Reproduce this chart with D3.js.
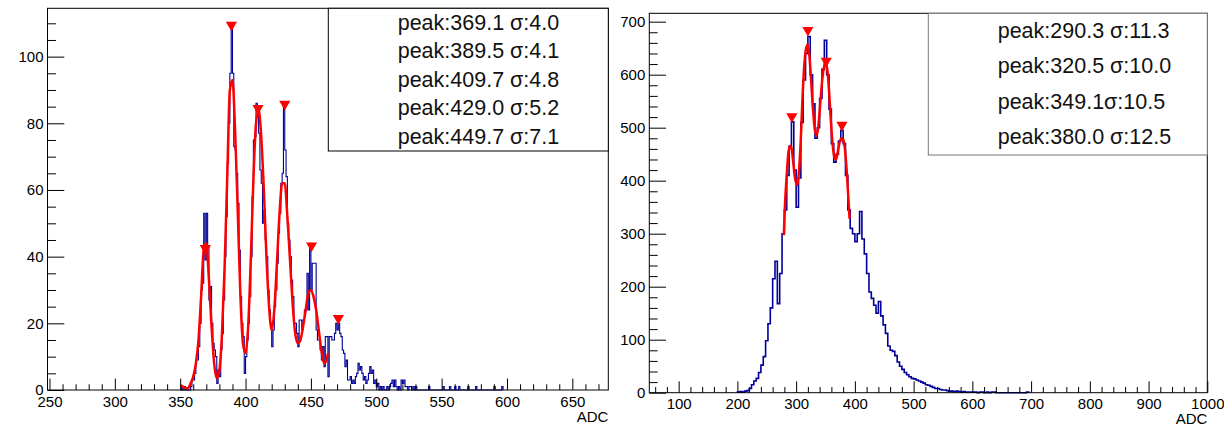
<!DOCTYPE html>
<html>
<head>
<meta charset="utf-8">
<script src="https://cdn.jsdelivr.net/npm/d3@7"></script>
<style>
	body { margin: 0; background: #fff; }
	svg { display: block; }
</style>
</head>
<body>
<div id="app"></div>
<script>
// left pad: 1 ADC bins starting at 350
const leftBinStart = 350;
const leftBinWidth = 1;
const leftCounts = [
	0, 1, 0, 1, 0, 0, 0, 0, 1, 3,
	3, 5, 9, 9, 13, 20, 30, 32, 53, 39,
	53, 43, 27, 31, 20, 14, 12, 10, 2, 6,
	4, 12, 17, 27, 40, 52, 68, 80, 95, 109,
	95, 73, 72, 65, 56, 42, 28, 20, 16, 5,
	10, 15, 20, 28, 40, 58, 75, 76, 86, 85,
	77, 66, 62, 50, 54, 45, 40, 30, 24, 20,
	13, 18, 25, 30, 38, 47, 53, 62, 65, 86,
	72, 64, 50, 45, 40, 33, 28, 20, 20, 17,
	13, 21, 21, 18, 21, 24, 24, 35, 24, 44,
	30, 38, 38, 38, 18, 15, 15, 12, 9, 13,
	7, 16, 16, 4, 16, 16, 15, 15, 17, 20,
	18, 20, 17, 16, 12, 11, 7, 9, 3, 3,
	4, 2, 3, 2, 4, 5, 8, 6, 7, 5,
	3, 4, 2, 3, 5, 7, 5, 6, 2, 3,
	1, 2, 0, 1, 0, 1, 0, 0, 1, 0,
	1, 2, 3, 1, 3, 1, 0, 1, 0, 3,
	2, 3, 1, 1, 0, 1, 1, 0, 1, 0,
	1
];
// lonely single counts out in the tail
const leftSingles = [540, 551, 556, 560, 563, 570, 576, 590, 596];

const leftFitX = [350, 352, 354, 356, 358, 360, 362, 364, 366, 368, 370, 372, 374, 376, 378, 380,
	382, 384, 386, 388, 390, 392, 394, 396, 398, 400, 402, 404, 406, 408, 410, 412, 414, 416, 418,
	420, 422, 424, 426, 428, 430, 432, 434, 436, 438, 440, 442, 444, 446, 448, 450, 452, 454, 456,
	458, 460, 462, 463];
const leftFitY = [1.5, 1, 0.5, 0.5, 2, 4, 8, 15, 28, 42, 44, 33, 19, 8, 3.5, 6,
	17, 37, 64, 90, 93, 78, 54, 29, 14, 11, 19, 39, 63, 80, 84, 76, 60, 40, 25,
	18, 24, 38, 53, 62, 62, 52, 39, 26, 17, 14, 15, 19, 24, 29, 30, 28, 24, 18,
	12, 8, 9, 11];

const leftPeakX = [369.2, 389.2, 409.5, 430, 450.5, 471];
const leftPeakY = [42.5, 109.5, 84.5, 85.8, 43.3, 21.5];
const leftLabels = ['peak:369.1 σ:4.0', 'peak:389.5 σ:4.1', 'peak:409.7 σ:4.8', 'peak:429.0 σ:5.2', 'peak:449.7 σ:7.1'];

const leftXTicks = [250, 300, 350, 400, 450, 500, 550, 600, 650];
const leftYTicks = [0, 20, 40, 60, 80, 100];

// right pad: 4 ADC bins starting at 200
const rightBinStart = 200;
const rightBinWidth = 4;
const rightCounts = [
	1, 2, 1, 3, 4, 8, 15, 22, 27, 38,
	52, 68, 98, 130, 160, 215, 248, 168, 225, 300,
	345, 410, 465, 511, 420, 350, 405, 510, 590, 640,
	672, 600, 545, 480, 500, 555, 610, 665, 600, 535,
	470, 435, 450, 475, 495, 470, 410, 345, 310, 300,
	285, 300, 342, 290, 262, 225, 190, 178, 165, 150,
	172, 145, 128, 112, 88, 80, 78, 70, 58, 50,
	44, 38, 34, 30, 27, 26, 24, 22, 20, 18,
	15, 14, 12, 10, 8, 8, 6, 5, 5, 4,
	3, 3, 2, 3, 2, 1, 2, 1, 1, 1,
	1, 1, 0, 1, 1, 0, 1, 0, 1, 1,
	0
];
const rightSingles = [692];

const rightFitX = [279, 281, 284, 287, 290, 292, 295, 298, 302, 305, 308, 311, 314, 317, 320, 323,
	326, 329, 332, 335, 338, 341, 344, 347, 350, 353, 356, 359, 362, 365, 368, 371, 374, 377, 380,
	383, 386, 389, 391];
const rightFitY = [297, 354, 411, 455, 466, 462, 435, 405, 392, 420, 480, 560, 620, 650, 657, 630,
	580, 530, 495, 485, 505, 545, 585, 612, 620, 610, 570, 515, 470, 445, 440, 455, 472, 480, 478,
	460, 420, 365, 328];

const rightPeakX = [292.7, 320, 351.2, 378];
const rightPeakY = [521, 684, 626, 505];
const rightLabels = ['peak:290.3 σ:11.3', 'peak:320.5 σ:10.0', 'peak:349.1σ:10.5', 'peak:380.0 σ:12.5'];

const rightXTicks = [100, 200, 300, 400, 500, 600, 700, 800, 900, 1000];
const rightYTicks = [0, 100, 200, 300, 400, 500, 600, 700];

const axisTitle = 'ADC';


// STYLE + LAYOUT
const width = 1224;
const height = 426;
const font = "'Liberation Sans', Arial, Helvetica, sans-serif";
const histColour = '#000099';
const fitColour = '#ff0000';
const tickFont = 15;
const legendFont = 21.5;

const panels = [
	{
		counts: leftCounts, binStart: leftBinStart, binWidth: leftBinWidth, singles: leftSingles, binEnd: 600,
		fitX: leftFitX, fitY: leftFitY, peakX: leftPeakX, peakY: leftPeakY, labels: leftLabels,
		xTicks: leftXTicks, yTicks: leftYTicks, xMinor: 10, yMinor: 5,
		xDomain: [248.5, 677.5], yDomain: [0, 114.5],
		frame: { x0: 47.5, x1: 608.3, y0: 8.3, y1: 390 },
		legend: { x0: 328.3, y1: 151, stroke: '#000' },
		histWidth: 1.1
	},
	{
		counts: rightCounts, binStart: rightBinStart, binWidth: rightBinWidth, singles: rightSingles, binEnd: 700,
		fitX: rightFitX, fitY: rightFitY, peakX: rightPeakX, peakY: rightPeakY, labels: rightLabels,
		xTicks: rightXTicks, yTicks: rightYTicks, xMinor: 20, yMinor: 20,
		xDomain: [50, 1000], yDomain: [0, 715.8],
		frame: { x0: 649.3, x1: 1207.3, y0: 13.3, y1: 392.7 },
		legend: { x0: 928.3, y1: 155, stroke: '#777' },
		// the real thing has 1 ADC bins, so it reads heavier
		histWidth: 1.6
	}
];

const svg = d3.select('#app')
	.append('svg')
	.attr('width', width)
	.attr('height', height)
	.attr('viewBox', [0, 0, width, height])
	.style('font-family', font);

const buildBins = p => {
	const bins = [];
	for (let i = 0, lo = p.binStart; lo < p.binEnd; i++, lo += p.binWidth) {
		let v = i < p.counts.length ? p.counts[i] : 0;
		if (p.singles.includes(lo)) v = 1;
		bins.push({ lo, hi: lo + p.binWidth, v });
	}
	// stop the outline at the last filled bin
	while (bins.length && bins[bins.length - 1].v === 0) bins.pop();
	return bins;
};

const drawHistogram = (g, p, x, y) => {
	const bins = buildBins(p);
	const last = bins[bins.length - 1];
	const pts = [[bins[0].lo, 0], ...bins.map(b => [b.lo, b.v]), [last.hi, last.v], [last.hi, 0]];

	g.append('path')
		.datum(pts)
		.attr('fill', 'none')
		.attr('stroke', histColour)
		.attr('stroke-width', p.histWidth)
		.attr('d', d3.line()
			.x(d => x(d[0]))
			.y(d => y(d[1]))
			.curve(d3.curveStepAfter)
		);
};

const drawFit = (g, p, x, y) => {
	g.append('path')
		.datum(d3.zip(p.fitX, p.fitY))
		.attr('fill', 'none')
		.attr('stroke', fitColour)
		.attr('stroke-width', 2.5)
		.attr('stroke-linejoin', 'round')
		.attr('d', d3.line()
			.x(d => x(d[0]))
			.y(d => y(d[1]))
			.curve(d3.curveMonotoneX)
		);

	// downward triangles on the found peaks
	g.selectAll('.peak')
		.data(d3.zip(p.peakX, p.peakY))
		.join('path')
		.attr('class', 'peak')
		.attr('transform', d => `translate(${x(d[0])},${y(d[1])}) rotate(180)`)
		.attr('d', d3.symbol(d3.symbolTriangle, 54))
		.attr('fill', fitColour);
};

const minorValues = (domain, step, majors) => {
	return d3.range(Math.ceil(domain[0] / step) * step, domain[1] + 0.001, step)
		.filter(v => !majors.includes(v));
};

const drawAxes = (g, p, x, y) => {
	const f = p.frame;
	const xLen = (f.y1 - f.y0) * 0.03;
	const yLen = (f.x1 - f.x0) * 0.03;

	// ticks sit inside the frame, ROOT style
	g.append('g')
		.attr('transform', `translate(0,${f.y1})`)
		.call(d3.axisBottom(x)
			.tickValues(p.xTicks)
			.tickSize(-xLen)
			.tickPadding(6)
			.tickFormat(d3.format('d'))
		)
		.call(g => g.select('.domain').remove())
		.attr('font-family', font)
		.attr('font-size', tickFont);

	g.append('g')
		.attr('transform', `translate(0,${f.y1})`)
		.call(d3.axisBottom(x)
			.tickValues(minorValues(p.xDomain, p.xMinor, p.xTicks))
			.tickSize(-xLen / 2)
			.tickFormat('')
		)
		.call(g => g.select('.domain').remove());

	g.append('g')
		.attr('transform', `translate(${f.x0},0)`)
		.call(d3.axisLeft(y)
			.tickValues(p.yTicks)
			.tickSize(-yLen)
			.tickPadding(4)
			.tickFormat(d3.format('d'))
		)
		.call(g => g.select('.domain').remove())
		.attr('font-family', font)
		.attr('font-size', tickFont);

	g.append('g')
		.attr('transform', `translate(${f.x0},0)`)
		.call(d3.axisLeft(y)
			.tickValues(minorValues(p.yDomain, p.yMinor, p.yTicks))
			.tickSize(-yLen / 2)
			.tickFormat('')
		)
		.call(g => g.select('.domain').remove());

	// frame
	g.append('rect')
		.attr('x', f.x0)
		.attr('y', f.y0)
		.attr('width', f.x1 - f.x0)
		.attr('height', f.y1 - f.y0)
		.attr('fill', 'none')
		.attr('stroke', '#000')
		.attr('stroke-width', 1);

	g.append('text')
		.text(axisTitle)
		.attr('x', f.x1)
		.attr('y', f.y1 + 31.5)
		.attr('text-anchor', 'end')
		.attr('font-size', tickFont);
};

const drawLegend = (g, p) => {
	const l = p.legend;
	const f = p.frame;
	const rowH = (l.y1 - f.y0) / p.labels.length;

	g.append('rect')
		.attr('x', l.x0)
		.attr('y', f.y0)
		.attr('width', f.x1 - l.x0)
		.attr('height', l.y1 - f.y0)
		.attr('fill', '#fff')
		.attr('stroke', l.stroke)
		.attr('stroke-width', 1);

	g.selectAll('.entry')
		.data(p.labels)
		.join('text')
		.attr('class', 'entry')
		.attr('x', l.x0 + 69.4)
		.attr('y', (d, i) => f.y0 + rowH * (i + 0.5) + 7)
		.attr('font-size', legendFont)
		.attr('fill', '#111')
		.text(d => d);
};

panels.forEach(p => {
	const x = d3.scaleLinear().domain(p.xDomain).range([p.frame.x0, p.frame.x1]);
	const y = d3.scaleLinear().domain(p.yDomain).range([p.frame.y1, p.frame.y0]);
	const g = svg.append('g');

	drawHistogram(g, p, x, y);
	drawFit(g, p, x, y);
	drawAxes(g, p, x, y);
	drawLegend(g, p);
});
</script>
</body>
</html>
